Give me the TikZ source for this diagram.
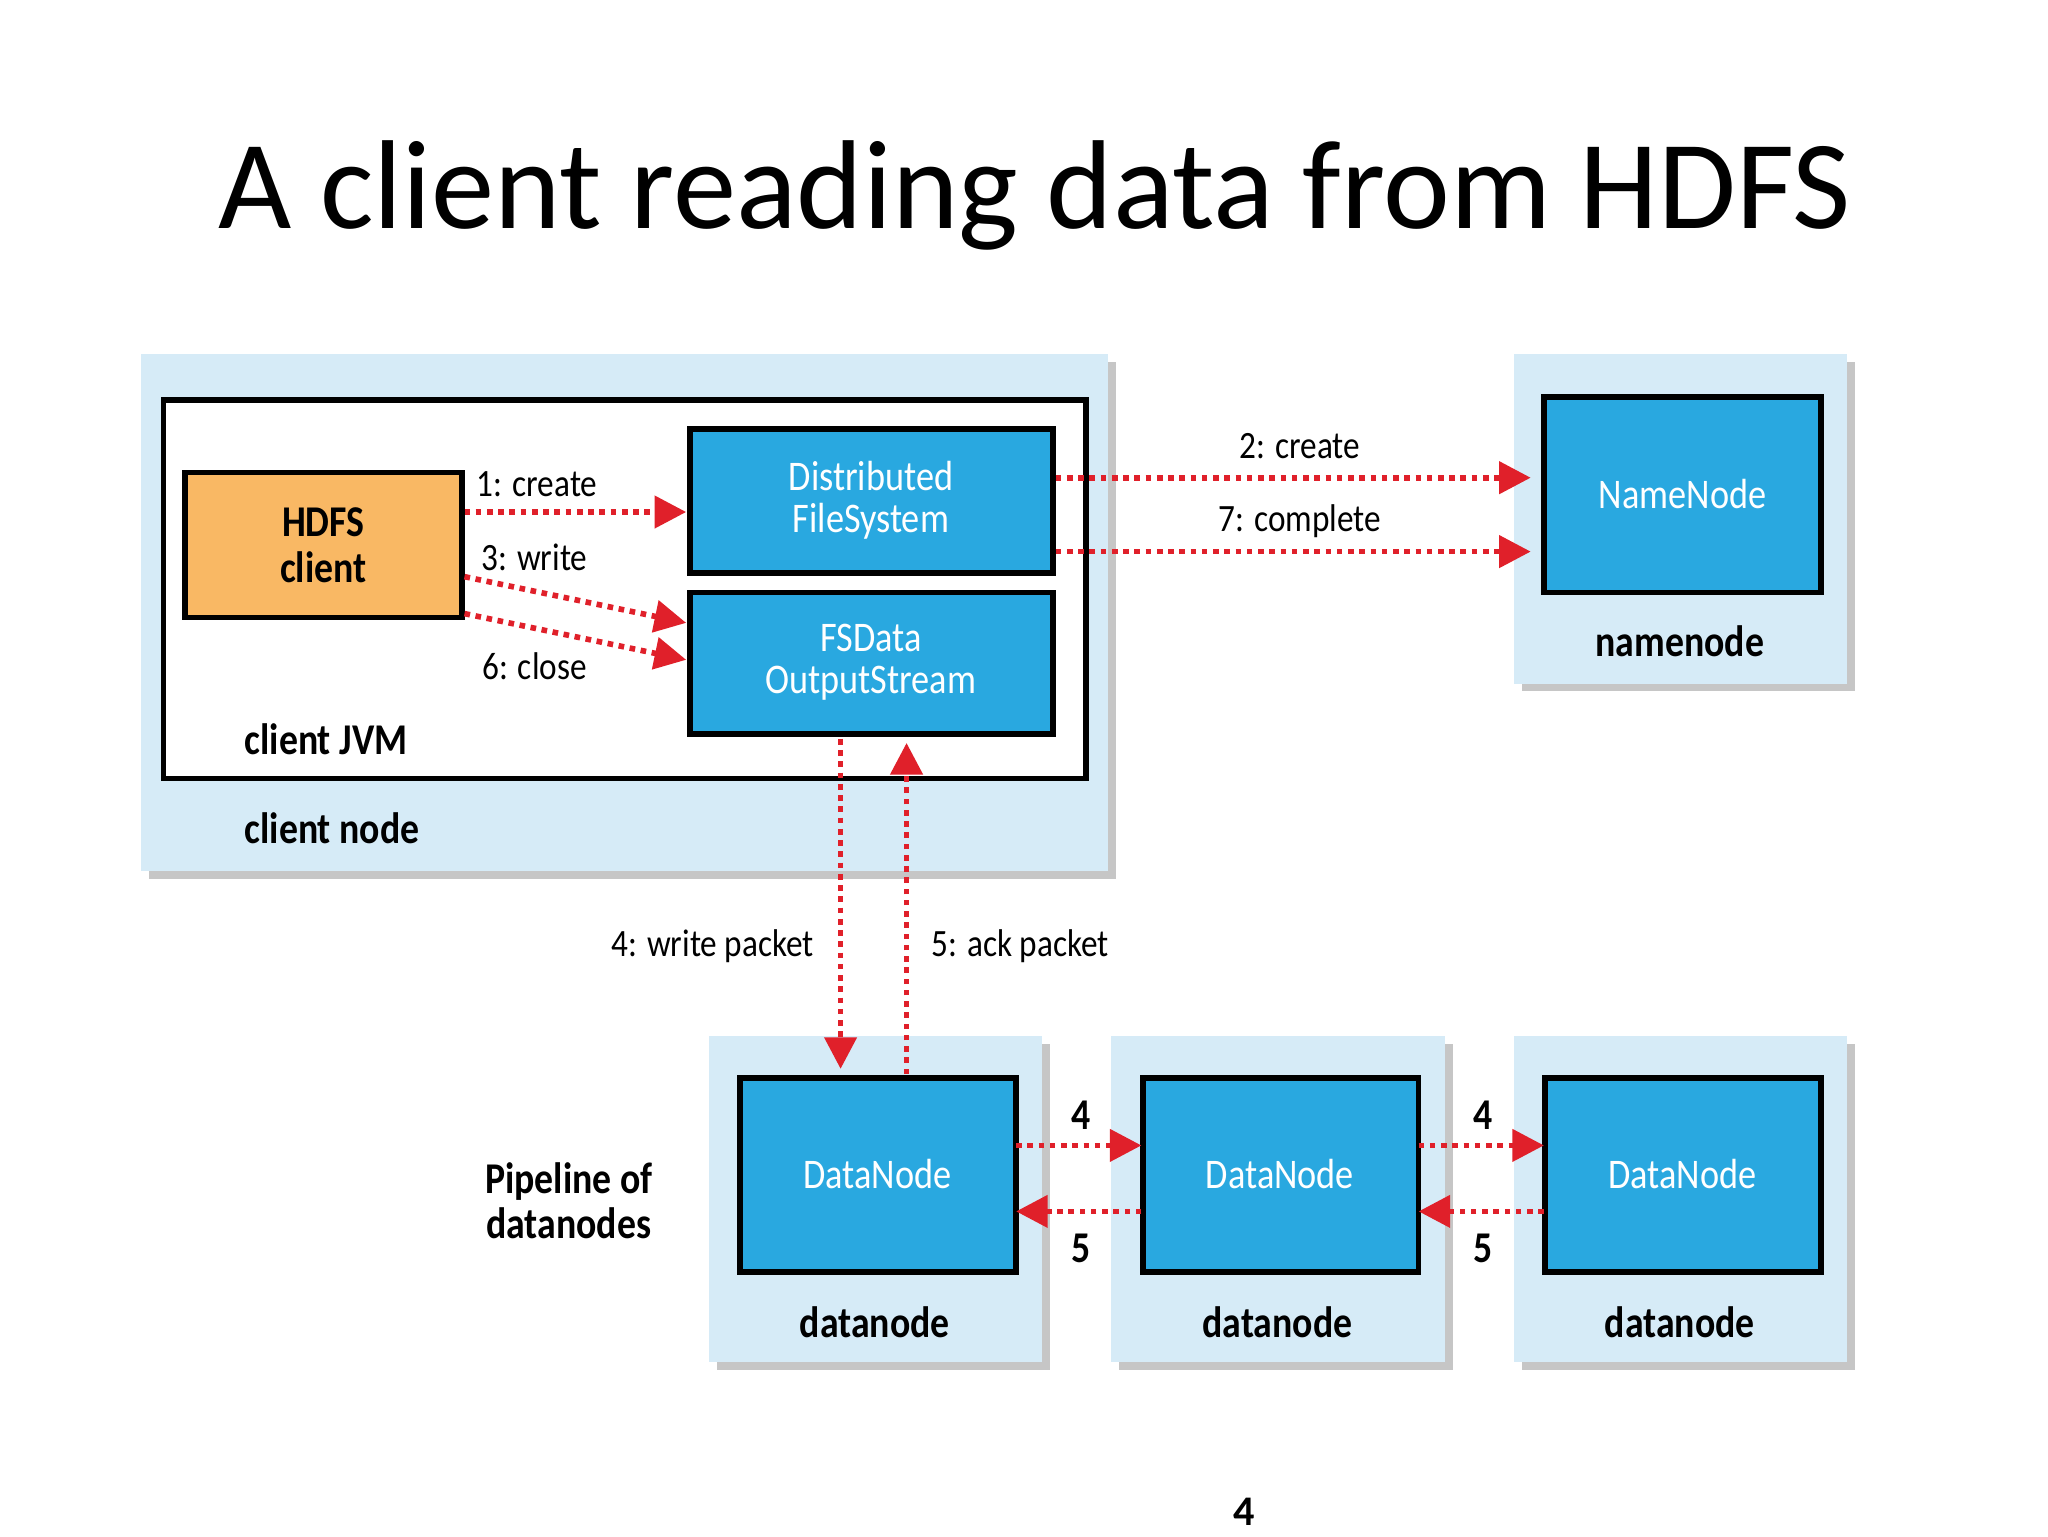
\documentclass[tikz,border=0pt]{standalone}
\usepackage{fontspec}
\setmainfont{Carlito}
\newfontfamily\cond{Carlito}[FakeStretch=0.86]
\usetikzlibrary{arrows.meta}
\definecolor{lblue}{HTML}{D6EBF7}
\definecolor{dblue}{HTML}{29A8E0}
\definecolor{orng}{HTML}{F9B864}
\definecolor{ared}{HTML}{E0202A}
\begin{document}
\begin{tikzpicture}[x=0.013196cm,y=-0.013196cm,
  outer/.style={fill=lblue,draw=none},
  blue/.style={fill=dblue,draw=black,line width=1.6pt},
  wt/.style={text=white,font=\cond\fontsize{12}{12}\selectfont,align=center},
  bl/.style={font=\cond\bfseries\fontsize{12.5}{13}\selectfont,align=center},
  lb/.style={font=\cond\fontsize{11}{12}\selectfont},
  arr/.style={ared,line width=1.6pt,dash pattern=on 1.6pt off 1.6pt,-{Triangle[length=9pt,width=9pt]}}]
\useasboundingbox (0,0) rectangle (1552,1164);
\node (title) at (784,148) {\fontsize{36}{40}\selectfont A client reading data from HDFS};
% shadows
\foreach \a/\b/\c/\d in {107/268/840/660,1147/268/1400/518,537/785/790/1032,842/785/1095/1032,1147/785/1400/1032}
  \fill[gray!45] (\a+6,\b+6) rectangle (\c+6,\d+6);
\fill[outer] (107,268) rectangle (840,660);
\draw[fill=white,line width=1.6pt] (124,303) rectangle (823,590);
\fill[outer] (1147,268) rectangle (1400,518);
\fill[outer] (537,785) rectangle (790,1032);
\fill[outer] (842,785) rectangle (1095,1032);
\fill[outer] (1147,785) rectangle (1400,1032);
\node[bl,anchor=west] (jvm) at (176,560) {client JVM};
\node[bl,anchor=west] (cn) at (176,628) {client node};
\draw[fill=orng,line width=1.6pt] (140,358) rectangle (350,468);
\node[bl] (hc) at (245,413) {HDFS\\client};
\draw[blue] (523,325) rectangle (798,434);
\node[wt] (dfs) at (660,379) {Distributed\\FileSystem};
\draw[blue] (523,449) rectangle (798,556);
\node[wt] (fs) at (660,502) {FSData\\OutputStream};
\draw[blue] (1170,301) rectangle (1380,449);
\node[wt] (nn) at (1275,374) {NameNode};
\node[bl] (nnl) at (1273,486) {namenode};
\foreach \x/\n in {665/a,970/b,1275/c}{
  \draw[blue] (\x-104,817) rectangle (\x+105,964);
  \node[wt] (dn\n) at (\x,890) {DataNode};
  \node[bl] (dl\n) at (\x-2,1002) {datanode};
}
\node[bl] (pipe) at (431,910) {Pipeline of\\datanodes};
\coordinate (h1) at (352,388); \coordinate (d1) at (520,388);
\coordinate (h3) at (352,437); \coordinate (d3) at (520,472);
\coordinate (h6) at (352,465); \coordinate (d6) at (520,500);
\draw[arr] (h1) -- (d1); \node[lb] (l1) at (407,367) {1: create};
\draw[arr] (h3) -- (d3); \node[lb] (l3) at (405,422) {3: write};
\draw[arr] (h6) -- (d6); \node[lb] (l6) at (405,505) {6: close};
\coordinate (a2) at (800,362); \coordinate (b2) at (1160,362);
\coordinate (a7) at (800,418); \coordinate (b7) at (1160,418);
\draw[arr] (a2) -- (b2); \node[lb] (l2) at (985,338) {2: create};
\draw[arr] (a7) -- (b7); \node[lb] (l7) at (985,395) {7: complete};
\coordinate (w1) at (637,560); \coordinate (w2) at (637,810);
\coordinate (k1) at (687,814); \coordinate (k2) at (687,563);
\draw[arr] (w1) -- (w2); \node[lb] (l4) at (540,717) {4: write packet};
\draw[arr] (k1) -- (k2); \node[lb] (l5) at (773,717) {5: ack packet};
\foreach \x in {770,1075}{
  \draw[arr] (\x,868) -- (\x+95,868);
  \draw[arr] (\x+95,918) -- (\x,918);
  \node[bl] at (\x+49,845) {4};
  \node[bl] at (\x+49,946) {5};
}
\node[font=\bfseries\fontsize{12}{13}\selectfont] (pg) at (943,1146) {4};
\end{tikzpicture}
\end{document}
